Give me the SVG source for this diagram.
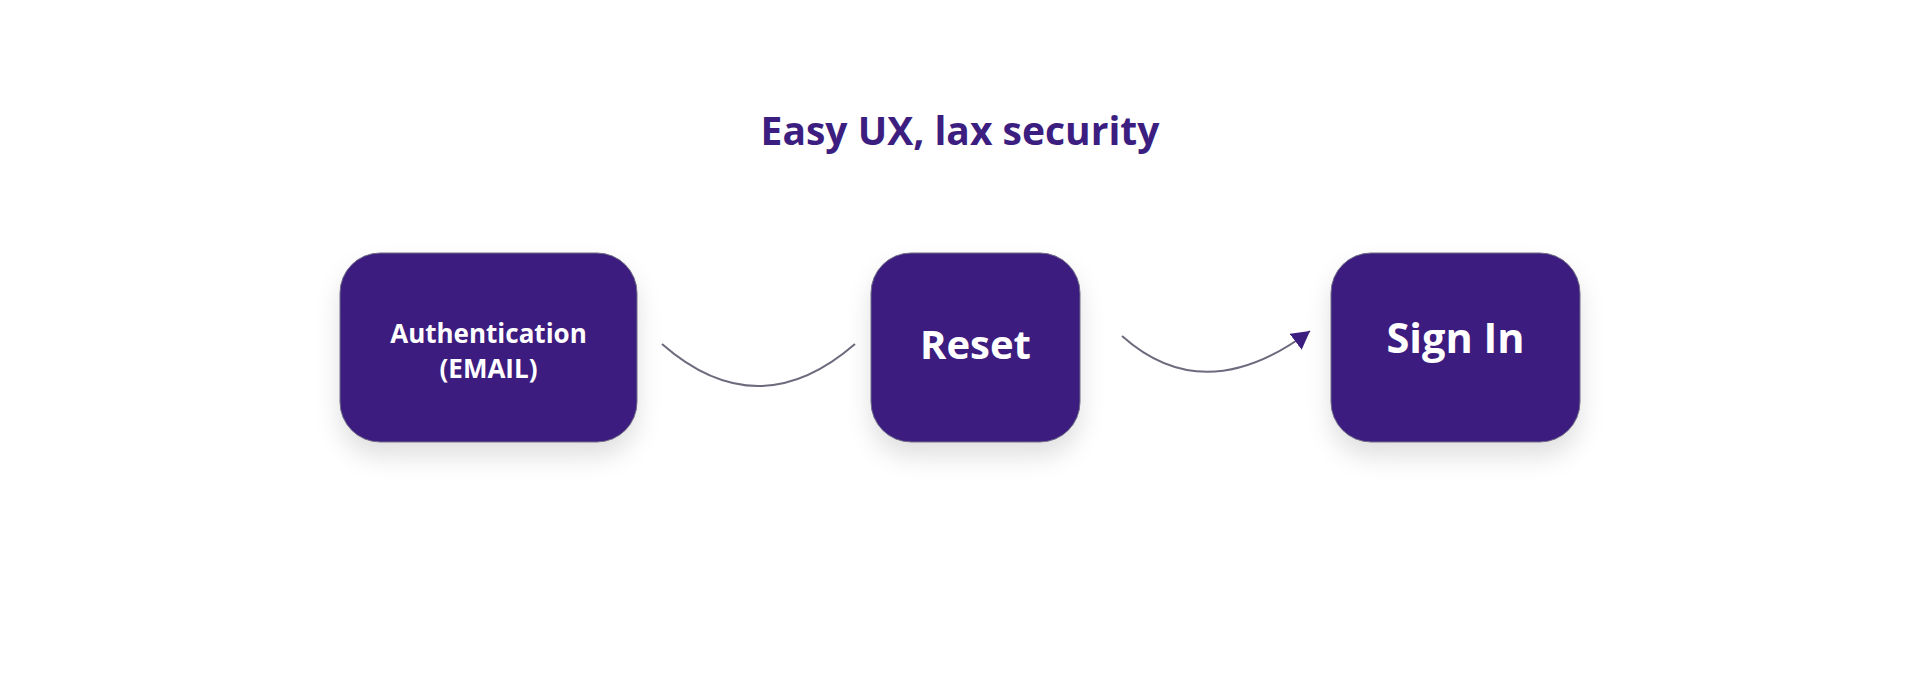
<svg xmlns="http://www.w3.org/2000/svg" width="1920" height="696" viewBox="0 0 1920 696">
<style>
.node{fill:#3c1e80;stroke:#6e6a85;stroke-width:1;filter:url(#sh)}
.lbl{fill:#ffffff;font-family:"Open Sans","Noto Sans",sans-serif;font-weight:700;text-anchor:middle}
.title{fill:#3c1e80;font-family:"Open Sans","Noto Sans",sans-serif;font-weight:700;text-anchor:middle;font-size:39px}
.edge{fill:none;stroke:#6e6a7e;stroke-width:2}
</style>
<defs>
<filter id="sh" x="-30%" y="-30%" width="160%" height="180%">
<feDropShadow dx="0" dy="14" stdDeviation="12" flood-color="#000" flood-opacity="0.12"/>
</filter>
<marker id="arr" markerUnits="userSpaceOnUse" markerWidth="20" markerHeight="20" refX="18" refY="10" orient="auto">
<path d="M0,0 L18,10 L0,20 z" fill="#3c1e80"/>
</marker>
</defs>
<rect width="1920" height="696" fill="#ffffff"/>
<text class="title" x="960" y="145">Easy UX, lax security</text>
<g id="connectors">
<path class="edge" d="M662,344 Q758,428 855,344"/>
<path class="edge" d="M1122,336 Q1205,410 1310,331" marker-end="url(#arr)"/>
</g>
<g id="node-auth">
<rect class="node" x="340" y="253" width="297" height="189" rx="40"/>
<text class="lbl" x="488.5" y="343" font-size="26">Authentication</text>
<text class="lbl" x="488.5" y="378" font-size="26">(EMAIL)</text>
</g>
<g id="node-reset">
<rect class="node" x="871" y="253" width="209" height="189" rx="40"/>
<text class="lbl" x="975.5" y="359" font-size="40">Reset</text>
</g>
<g id="node-signin">
<rect class="node" x="1331" y="253" width="249" height="189" rx="40"/>
<text class="lbl" x="1455.5" y="353" font-size="41.5">Sign In</text>
</g>
</svg>
